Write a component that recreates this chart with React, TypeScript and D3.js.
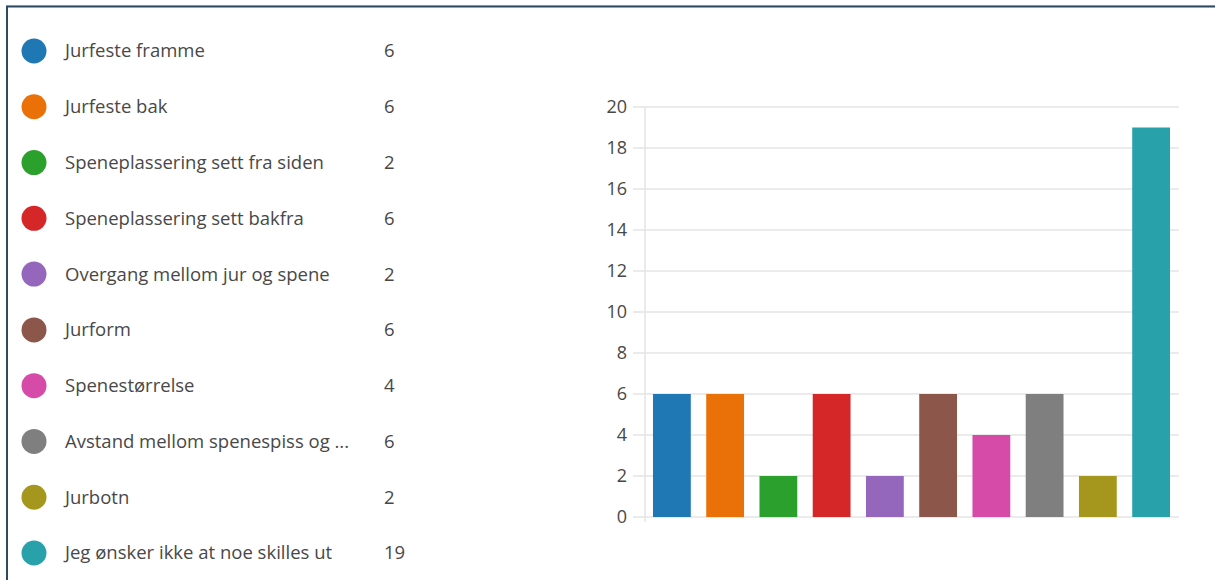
import React from "react";
import * as d3 from "d3";

const categories = [
  "Jurfeste framme",
  "Jurfeste bak",
  "Speneplassering sett fra siden",
  "Speneplassering sett bakfra",
  "Overgang mellom jur og spene",
  "Jurform",
  "Spenestørrelse",
  "Avstand mellom spenespiss og ...",
  "Jurbotn",
  "Jeg ønsker ikke at noe skilles ut",
];
const counts = [6, 6, 2, 6, 2, 6, 4, 6, 2, 19];
const colors = [
  "#1f77b4",
  "#ea7108",
  "#2ca02c",
  "#d62728",
  "#9467bd",
  "#8c564b",
  "#d64aa8",
  "#7f7f7f",
  "#a5961e",
  "#28a1ab",
];
const yTicks = [0, 2, 4, 6, 8, 10, 12, 14, 16, 18, 20];

const W = 1215;
const H = 580;
const FONT = "'Open Sans', 'Noto Sans', sans-serif";

export default function App() {
  const x = d3
    .scaleBand<string>()
    .domain(categories)
    .range([645, 1178])
    .paddingInner(0.29)
    .paddingOuter(0.15);
  const y = d3.scaleLinear().domain([0, 20]).range([517, 107]);

  const legendY = d3
    .scaleLinear()
    .domain([0, categories.length - 1])
    .range([51, 553]);

  return (
    <svg
      width={W}
      height={H}
      style={{ position: "absolute", left: 0, top: 0, background: "#fff" }}
      fontFamily={FONT}
    >
      {/* frame */}
      <line x1={6} x2={W} y1={5.5} y2={5.5} stroke="#d8dde2" strokeWidth={1} />
      <line x1={6} x2={W} y1={6.5} y2={6.5} stroke="#2e4a62" strokeWidth={2} />
      <line x1={7} x2={7} y1={6} y2={H} stroke="#2e4a62" strokeWidth={2} />

      {/* legend */}
      {categories.map((c, i) => (
        <g key={c} transform={`translate(0,${legendY(i)})`}>
          <circle cx={34} cy={0} r={12.5} fill={colors[i]} />
          <text
            x={65}
            y={0}
            dy="0.35em"
            fontSize={18.5}
            fill="#484848"
            textLength={undefined}
          >
            {c}
          </text>
          <text x={384} y={0} dy="0.35em" fontSize={18.5} fill="#484848">
            {counts[i]}
          </text>
        </g>
      ))}

      {/* grid + y axis */}
      {yTicks.map((t) => (
        <g key={t}>
          <line
            x1={633}
            x2={1179}
            y1={y(t)}
            y2={y(t)}
            stroke="#e4e4e4"
            strokeWidth={1.5}
          />
          <text
            x={627}
            y={y(t)}
            dy="0.35em"
            textAnchor="end"
            fontSize={18}
            fill="#484848"
          >
            {t}
          </text>
        </g>
      ))}
      <line x1={645} x2={645} y1={y(20)} y2={y(0) + 5} stroke="#e4e4e4" strokeWidth={1.5} />

      {/* bars */}
      {categories.map((c, i) => (
        <rect
          key={c}
          x={x(c)}
          y={y(counts[i])}
          width={x.bandwidth()}
          height={y(0) - y(counts[i])}
          fill={colors[i]}
        />
      ))}
    </svg>
  );
}
